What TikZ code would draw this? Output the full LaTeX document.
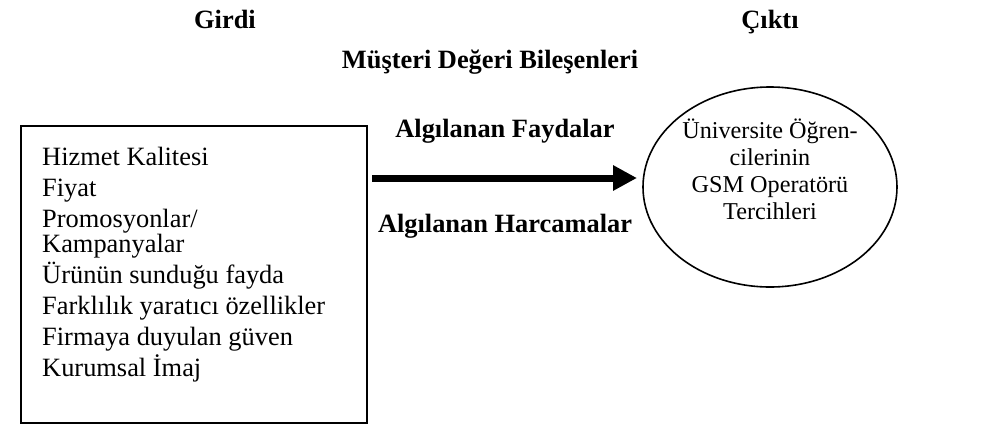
\documentclass[tikz,border=0pt]{standalone}
\usepackage{fontspec}
\setmainfont{Liberation Serif}
\usetikzlibrary{shapes.geometric,arrows.meta}
\tikzset{
  txt/.style={font=\fontsize{26.4}{30}\selectfont, inner sep=0pt, anchor=base},
  item/.style={txt, anchor=base west},
  otxt/.style={txt, font=\fontsize{24.2}{27}\selectfont},
  head/.style={txt, font=\fontsize{26.4}{30}\selectfont\bfseries},
  frame/.style={draw=black, line width=1.6pt},
  bigarrow/.style={line width=7pt, -{Triangle[length=24pt,width=24pt]}}
}
\begin{document}
\begin{tikzpicture}[x=1pt,y=-1pt]
\useasboundingbox (0,0) rectangle (986,424);
% headings
\node[head] (girdi) at (225,28) {Girdi};
\node[head] (cikti) at (770,28) {Çıktı};
\node[head] (mdb) at (490,68) {Müşteri Değeri Bileşenleri};
% input box
\draw[frame] (21,126) rectangle (367,423);
\node[item] (i1) at (42,165) {Hizmet Kalitesi};
\node[item] (i2) at (42,196) {Fiyat};
\node[item] (i3a) at (42,227) {Promosyonlar/};
\node[item] (i3b) at (42,252) {Kampanyalar};
\node[item] (i4) at (42,283) {Ürünün sunduğu fayda};
\node[item] (i5) at (42,314) {Farklılık yaratıcı özellikler};
\node[item] (i6) at (42,345) {Firmaya duyulan güven};
\node[item] (i7) at (42,376) {Kurumsal İmaj};
% output ellipse
\node[ellipse, frame, minimum width=254pt, minimum height=200pt, inner sep=0pt] (out) at (770,187) {};
\node[otxt] (o1) at (770,138) {Üniversite Öğren-};
\node[otxt] (o2) at (770,165) {cilerinin};
\node[otxt] (o3) at (770,192) {GSM Operatörü};
\node[otxt] (o4) at (770,219) {Tercihleri};
% arrow and labels
\coordinate (as) at (372,178);
\coordinate (ae) at (637,178);
\draw[bigarrow] (as) -- (ae);
\node[head] (fay) at (505,137) {Algılanan Faydalar};
\node[head] (har) at (505,232) {Algılanan Harcamalar};
\end{tikzpicture}
\end{document}
